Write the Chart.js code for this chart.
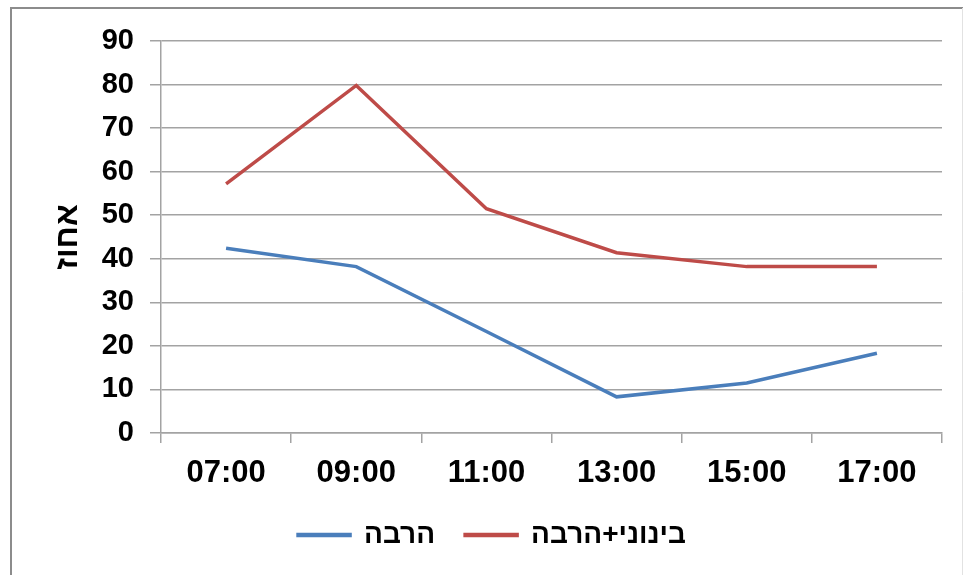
<!DOCTYPE html>
<html>
<head>
<meta charset="utf-8">
<script src="https://cdn.jsdelivr.net/npm/chart.js@4/dist/chart.umd.min.js"></script>
<style>
  html, body { margin: 0; padding: 0; background: #ffffff; }
  #wrap { width: 971px; height: 575px; }
</style>
</head>
<body>
<div id="wrap"><canvas id="chart" width="971" height="575"></canvas></div>
<script>
// Hours of observation
const hours = ['07:00', '09:00', '11:00', '13:00', '15:00', '17:00'];
// Share answering "a lot"
const muchValues = [42.4, 38.2, 23.3, 8.3, 11.5, 18.3];
// Share answering "medium" or "a lot"
const mediumMuchValues = [57.2, 79.8, 51.5, 41.4, 38.2, 38.2];
// Y axis ticks
const yTicks = { min: 0, max: 90, step: 10 };
const seriesNames = ['הרבה', 'בינוני+הרבה'];
const axisTitle = 'אחוז';

const FONT = "'Liberation Sans', Arial, sans-serif";
const GRID = '#a3a3a3';

// White background plus the frame around the whole figure
const framePlugin = {
  id: 'frame',
  beforeDraw(chart) {
    const ctx = chart.ctx;
    ctx.save();
    ctx.fillStyle = '#ffffff';
    ctx.fillRect(0, 0, chart.width, chart.height);
    ctx.lineWidth = 2;
    ctx.strokeStyle = '#8c8c8c';
    ctx.beginPath();
    ctx.moveTo(11, chart.height);
    ctx.lineTo(11, 8);
    ctx.lineTo(963, 8);
    ctx.stroke();
    ctx.lineWidth = 1;
    ctx.strokeStyle = '#e2e2e2';
    ctx.beginPath();
    ctx.moveTo(962.5, 8);
    ctx.lineTo(962.5, chart.height);
    ctx.stroke();
    ctx.restore();
  }
};

// Nudge the legend block a little to the right of the canvas centre
const legendShift = {
  id: 'legendShift',
  afterLayout(chart) {
    if (chart.legend) {
      chart.legend.left += 16;
      chart.legend.right += 16;
    }
  }
};

new Chart(document.getElementById('chart'), {
  type: 'line',
  data: {
    labels: hours,
    datasets: [
      {
        label: seriesNames[0],
        data: muchValues,
        borderColor: '#4a7ebb',
        backgroundColor: '#4a7ebb',
        borderWidth: 3.5,
        pointRadius: 0,
        tension: 0
      },
      {
        label: seriesNames[1],
        data: mediumMuchValues,
        borderColor: '#be4b48',
        backgroundColor: '#be4b48',
        borderWidth: 3.5,
        pointRadius: 0,
        tension: 0
      }
    ]
  },
  options: {
    responsive: false,
    animation: false,
    devicePixelRatio: 1,
    layout: { padding: { left: 10, right: 29, top: 41, bottom: 16 } },
    plugins: {
      tooltip: { enabled: false },
      legend: {
        position: 'bottom',
        labels: {
          boxWidth: 52,
          boxHeight: 1,
          padding: 30,
          color: '#000000',
          font: { family: FONT, size: 28, weight: 'bold' }
        }
      }
    },
    scales: {
      x: {
        type: 'category',
        offset: true,
        grid: {
          offset: true,
          drawOnChartArea: false,
          drawTicks: true,
          tickLength: 10,
          color: GRID,
          lineWidth: 1.5
        },
        border: { display: true, color: GRID, width: 1.5 },
        ticks: {
          padding: 12,
          color: '#000000',
          maxRotation: 0,
          font: { family: FONT, size: 31, weight: 'bold' }
        },
        afterFit(scale) { scale.height = 58; }
      },
      y: {
        min: yTicks.min,
        max: yTicks.max,
        grid: {
          color: GRID,
          lineWidth: 1.5,
          drawTicks: true,
          tickLength: 11
        },
        border: { display: true, color: GRID, width: 1.5 },
        ticks: {
          stepSize: yTicks.step,
          padding: 16,
          color: '#000000',
          font: { family: FONT, size: 29, weight: 'bold' }
        },
        title: {
          display: true,
          text: axisTitle,
          color: '#000000',
          padding: { top: 39, bottom: 0 },
          font: { family: FONT, size: 32, weight: 'bold' }
        },
        afterFit(scale) { scale.width = 151; }
      }
    }
  },
  plugins: [framePlugin, legendShift]
});
</script>
</body>
</html>
